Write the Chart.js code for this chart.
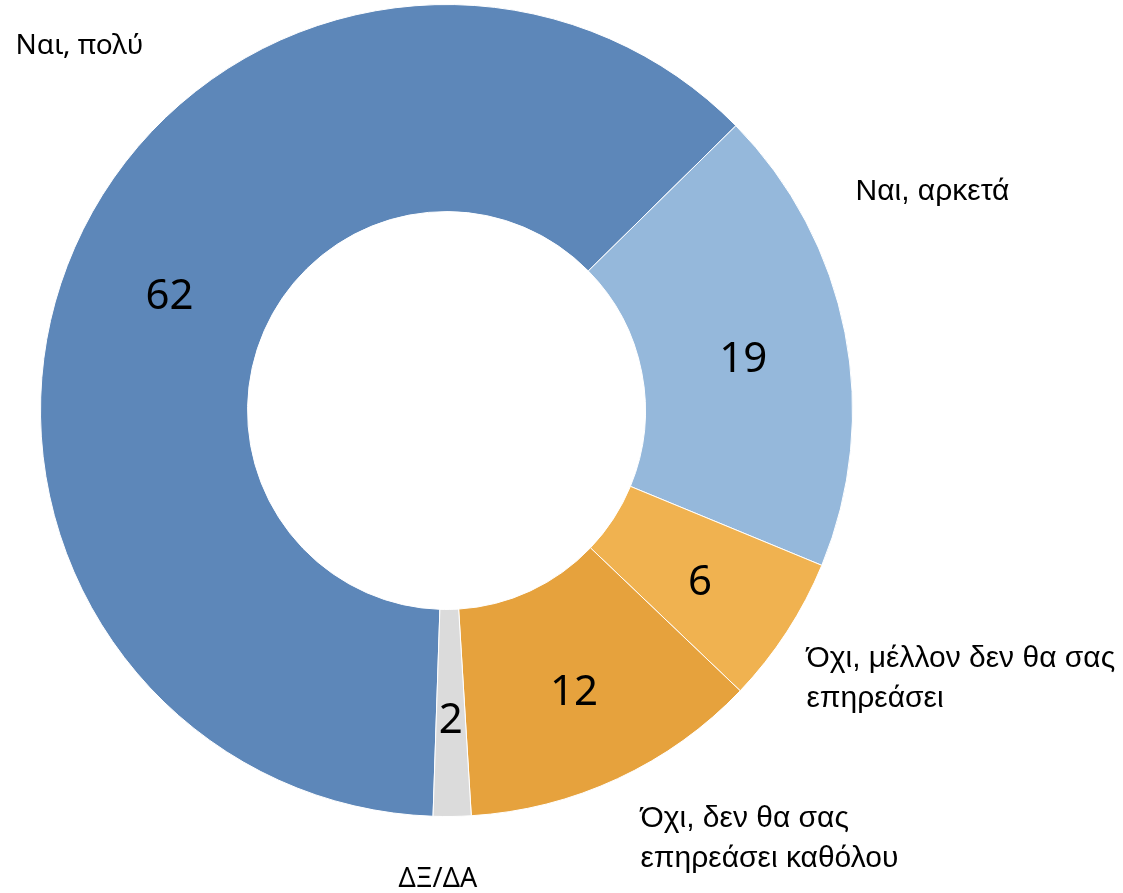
<!DOCTYPE html>
<html lang="el">
<head>
  <meta charset="UTF-8">
  <title>Ντόνατ</title>
  <script src="https://cdn.jsdelivr.net/npm/chart.js"></script>
  <style>
    html, body { margin: 0; padding: 0; background: #fff; }
    #wrap { position: relative; width: 1123px; height: 893px; }
  </style>
</head>
<body>
  <div id="wrap"><canvas id="donut"></canvas></div>
  <script>
    // categories and values (labels show rounded numbers)
    const categories = ["Ναι, πολύ", "Ναι, αρκετά", "Όχι, μέλλον δεν θα σας επηρεάσει", "Όχι, δεν θα σας επηρεάσει καθόλου", "ΔΞ/ΔΑ"];
    const values = [62.1, 18.6, 5.9, 11.9, 1.5];
    const valueLabels = ["62", "19", "6", "12", "2"];
    const colors = ["#5D87B9", "#95B8DB", "#F0B250", "#E6A23D", "#DBDBDB"];

    // where the category names sit, relative to the ring centre (px), and their lines
    const nameLines = [["Ναι, πολύ"], ["Ναι, αρκετά"], ["Όχι, μέλλον δεν θα σας", "επηρεάσει"], ["Όχι, δεν θα σας", "επηρεάσει καθόλου"], ["ΔΞ/ΔΑ"]];
    const nameSpots = [
      { dx: -431, dy: -357, font: '28px "Noto Sans"' },
      { dx: 409, dy: -211, font: '30px "Liberation Sans"' },
      { dx: 360, dy: 256, font: '30px "Liberation Sans"' },
      { dx: 194, dy: 416, font: '30px "Liberation Sans"' },
      { dx: -48, dy: 476, font: '27px "Noto Sans"' }
    ];
    const lineGap = 40;

    const labelPlugin = {
      id: 'donutLabels',
      afterDatasetsDraw(chart) {
        const ctx = chart.ctx;
        const arcs = chart.getDatasetMeta(0).data;
        ctx.save();
        ctx.fillStyle = '#000';
        // numbers in the middle of each slice
        ctx.font = '42px "Noto Sans"';
        ctx.textAlign = 'center';
        ctx.textBaseline = 'alphabetic';
        arcs.forEach((arc, i) => {
          const p = arc.tooltipPosition();
          ctx.fillText(valueLabels[i], p.x, p.y + 20);
        });
        // names outside the ring
        const cx = arcs[0].x, cy = arcs[0].y;
        ctx.textAlign = 'left';
        nameSpots.forEach((s, i) => {
          ctx.font = s.font;
          nameLines[i].forEach((line, j) => {
            ctx.fillText(line, cx + s.dx, cy + s.dy + j * lineGap);
          });
        });
        ctx.restore();
      }
    };

    new Chart(document.getElementById('donut'), {
      type: 'doughnut',
      data: {
        labels: categories,
        datasets: [{
          data: values,
          backgroundColor: colors,
          borderColor: '#fff',
          borderWidth: 1
        }]
      },
      options: {
        responsive: true,
        maintainAspectRatio: false,
        animation: false,
        rotation: 181.9,
        cutout: '49%',
        layout: { padding: { left: 40, top: 4, right: 270, bottom: 76 } },
        plugins: {
          legend: { display: false },
          tooltip: { enabled: false }
        }
      },
      plugins: [labelPlugin]
    });
  </script>
</body>
</html>
